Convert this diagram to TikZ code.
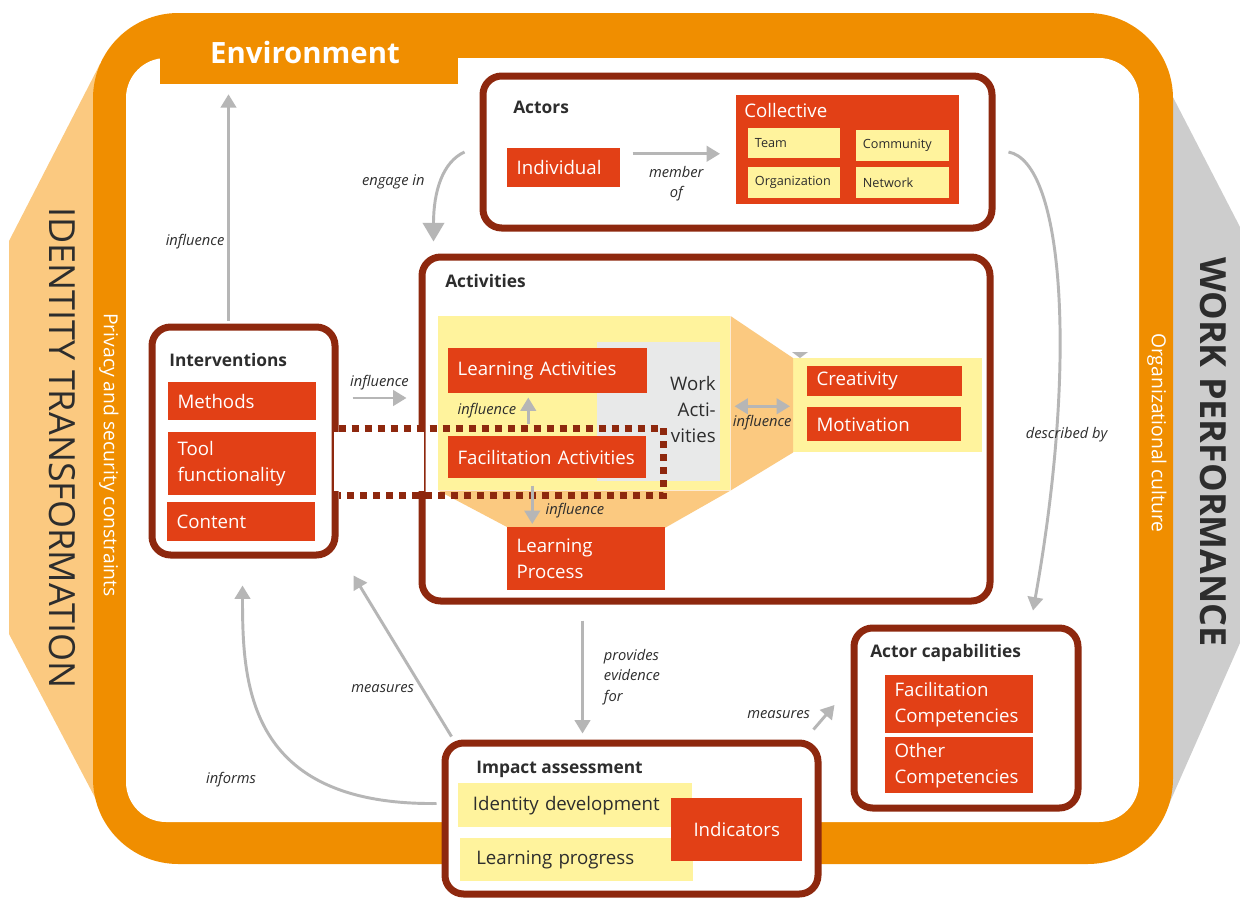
\documentclass[tikz,border=0pt]{standalone}
\usepackage{fontspec}
\setmainfont{Open Sans}
\usetikzlibrary{arrows.meta,calc}
\definecolor{envorange}{RGB}{240,142,0}
\definecolor{idorange}{RGB}{251,201,128}
\definecolor{perfgrey}{RGB}{205,205,205}
\definecolor{boxred}{RGB}{226,64,22}
\definecolor{framered}{RGB}{142,40,14}
\definecolor{paleyellow}{RGB}{255,243,157}
\definecolor{workgrey}{RGB}{232,233,233}
\definecolor{arrowgrey}{RGB}{182,182,182}
\definecolor{textdark}{RGB}{45,45,45}
\newcommand{\boxtxt}{\fontsize{14}{19.5}\selectfont}
\newcommand{\smalltxt}{\fontsize{9.5}{12}\selectfont}
\newcommand{\titletxt}{\fontsize{13}{16}\selectfont\bfseries}
\newcommand{\lbltxt}{\fontsize{11}{15.5}\selectfont\itshape}
\newcommand{\envtxt}{\fontsize{22}{26}\selectfont\bfseries}
\newcommand{\bigtxt}{\fontsize{27}{32}\selectfont}
\newcommand{\sidetxt}{\fontsize{14.5}{17}\selectfont}
\begin{document}
\begin{tikzpicture}[x=0.75pt, y=-0.75pt,
  sized/.style 2 args={minimum width=#1*0.75pt, minimum height=#2*0.75pt},
  areaframe/.style={draw=framered, line width=5.25pt, rounded corners=14pt, fill=white, inner sep=0pt},
  redbox/.style 2 args={fill=boxred, text=white, font=\boxtxt, inner xsep=7pt, inner ysep=0pt, text width=#1, minimum height=#2, align=left, anchor=north west},
  yellowbox/.style 2 args={fill=paleyellow, text=textdark, font=\smalltxt, inner xsep=5pt, inner ysep=0pt, text width=#1, minimum height=#2, align=left, anchor=north west},
  boxtitle/.style={font=\titletxt, text=textdark, anchor=west, inner sep=0pt},
  lbl/.style={font=\lbltxt, text=textdark, inner sep=1pt},
  flow/.style={draw=arrowgrey, line width=2.2pt, -{Triangle[length=10pt,width=11.5pt]}},
  dotline/.style={draw=framered, line width=5.25pt, dash pattern=on 5.25pt off 4.5pt}]
\useasboundingbox (0,0) rectangle (1240,897);

\fill[idorange] (100,64) -- (9,241) -- (9,634) -- (100,807) -- cycle;
\fill[perfgrey] (1160,72) -- (1240,227) -- (1240,643) -- (1162,820) -- cycle;
\fill[envorange, rounded corners=64pt] (93,13) rectangle (1173,864);
\fill[white, rounded corners=30pt] (126,58) rectangle (1139,822);
\node[fill=envorange, sized={298}{27}, inner sep=0pt] (envtab) at (309,70.5) {};
\node[font=\envtxt, text=white] (envtitle) at (305,52) {Environment};

\node[rotate=-90, font=\bigtxt, text=textdark] (identity) at (62,448) {IDENTITY TRANSFORMATION};
\node[rotate=-90, font=\bigtxt\bfseries, text=textdark] (performance) at (1213,452) {WORK PERFORMANCE};
\node[rotate=-90, font=\sidetxt, text=white] (privacy) at (109,455) {Privacy and security constraints};
\node[rotate=-90, font=\sidetxt, text=white] (culture) at (1157,433) {Organizational culture};

\node[areaframe, sized={509}{152}] (actors) at (737.5,152) {};
\node[areaframe, sized={568}{344}] (activities) at (706,429) {};
\node[areaframe, sized={183}{228}] (interv) at (243.5,441) {};
\node[areaframe, sized={224}{180}] (actcap) at (966,718) {};
\node[areaframe, sized={373}{151}] (impact) at (631.5,818.5) {};
\fill[white] ($(interv.east)+(-5,-9)$) rectangle ($(interv.east)+(5,50)$);
\fill[white] ($(activities.west)+(-5,3)$) rectangle ($(activities.west)+(5,62)$);

\node[boxtitle] (actorstitle) at (513,107) {Actors};
\node[boxtitle] (activitiestitle) at (445,281) {Activities};
\node[boxtitle] (intervtitle) at (169,360) {Interventions};
\node[boxtitle] (actcaptitle) at (870,653) {Actor capabilities};
\node[boxtitle] (impacttitle) at (476,769) {Impact assessment};

\node[redbox={70.75pt}{29.25pt}] (individual) at (507,148) {Individual};
\node[fill=boxred, sized={223}{109}, anchor=north west, inner sep=0pt] (collective) at (736,95) {};
\node[font=\boxtxt, text=white, anchor=west, inner sep=0pt] (collectivetitle) at (744,110) {Collective};
\node[yellowbox={59pt}{22.5pt}] (team) at (748,128) {Team};
\node[yellowbox={59.75pt}{23.25pt}] (community) at (856,130) {Community};
\node[yellowbox={59pt}{23.25pt}] (organization) at (748,167) {Organization};
\node[yellowbox={59.75pt}{23.25pt}] (network) at (856,167) {Network};

\node[fill=paleyellow, sized={292}{174}, anchor=north west, inner sep=0pt] (workarea) at (438,316) {};
\node[fill=paleyellow, sized={189}{94}, anchor=north west, inner sep=0pt] (motivarea) at (793,358) {};
\fill[idorange] (workarea.south west) -- (workarea.south east) -- ($(workarea.south east)+(-65,37)$) -- ($(workarea.south west)+(70,37)$) -- cycle;
\fill[idorange] (workarea.north east) -- (motivarea.north west) -- (motivarea.south west) -- (workarea.south east) -- cycle;
\fill[arrowgrey] ($(motivarea.north west)+(-1,-6)$) -- ++(16,0) -- ++(-8,6) -- cycle;
\node[fill=workgrey, sized={123}{139}, anchor=north west, inner sep=0pt] (workact) at (597,342) {};
\node[font=\boxtxt, text=textdark, align=right, anchor=east, inner sep=0pt] (worktext) at (716,409) {Work\\Acti-\\vities};

\node[redbox={135.25pt}{33.75pt}] (learnact) at (448,348) {Learning Activities};
\node[redbox={134.5pt}{31.5pt}] (facilact) at (448,436) {Facilitation Activities};
\node[redbox={104.5pt}{47.25pt}] (learnproc) at (507,527) {Learning\\Process};
\node[redbox={102.25pt}{22.5pt}] (creativity) at (807,366) {Creativity};
\node[redbox={101.5pt}{25.5pt}] (motivation) at (807,407) {Motivation};

\node[redbox={97pt}{28.5pt}] (methods) at (168,382) {Methods};
\node[redbox={97pt}{47.25pt}] (tool) at (168,432) {Tool\\functionality};
\node[redbox={97pt}{29.25pt}] (content) at (167,502) {Content};

\node[redbox={97pt}{43.5pt}] (faccomp) at (885,675) {Facilitation\\Competencies};
\node[redbox={97pt}{42pt}] (othercomp) at (885,737) {Other\\Competencies};

\node[yellowbox={153.5pt}{33pt}, font=\boxtxt, inner xsep=11pt] (identdev) at (458,783) {Identity development};
\node[yellowbox={150.75pt}{32.25pt}, font=\boxtxt, inner xsep=12pt] (learnprog) at (460,838) {Learning progress};
\node[redbox={84.25pt}{47.25pt}, align=center] (indicators) at (671,798) {Indicators};

\draw[dotline] ($(interv.east)+(0,-13)$) -- ($(interv.east)+(325,-13)$) -- ($(interv.east)+(325,54)$) -- ($(interv.east)+(0,54)$);

\draw[flow] ($(individual.east)+(12,-14)$) -- node[lbl, midway, below=7pt, align=center]{member\\of} ($(individual.east -| collective.west)+(-16,-14)$);
\draw[flow, -{Triangle[length=14pt,width=16pt]}] ($(actors.west)+(-15,0)$) .. controls +(-22,10) and +(0,-50) .. ($(activities.north west)+(15,-12)$) node[lbl, pos=0.5, left=10pt]{engage in};
\draw[flow] ($(interv.north)+(-15,-3)$) -- node[lbl, pos=0.35, left=1pt]{influence} ($(interv.north |- envtab.south)+(-15,10)$);
\draw[flow] ($(interv.east)+(14,-43)$) -- node[lbl, midway, above=4pt]{influence} ($(interv.east -| activities.west)+(-12,-43)$);
\draw[flow] ($(facilact.north)+(-19,-12)$) -- node[lbl, midway, left=7pt]{influence} ($(learnact.south)+(-19.5,4)$);
\draw[flow] ($(facilact.south)+(-15,7)$) -- node[lbl, pos=0.65, right=8pt]{influence} ($(facilact.south |- learnproc.north)+(-15,-3)$);
\draw[flow, {Triangle[length=10pt,width=11.5pt]}-{Triangle[length=10pt,width=11.5pt]}] ($(workarea.east)+(4,3)$) -- node[lbl, midway, below=5pt]{influence} ($(motivarea.west)+(-3,1)$);
\draw[flow] ($(actors.east)+(13,0)$) .. controls +(55,10) and +(45,-250) .. ($(actcap.north)+(67,-14)$) node[lbl, pos=0.75, xshift=8pt]{described by};
\draw[flow] ($(activities.south west)+(164,16)$) -- node[lbl, midway, right=14pt, align=left]{provides\\evidence\\for} ($(activities.south west |- impact.north)+(164,-6)$);
\draw[flow] ($(impact.north west)+(10,-3)$) -- node[lbl, pos=0.3, left=4pt]{measures} ($(interv.south east)+(15,17)$);
\draw[flow] ($(impact.west)+(-5,-15)$) .. controls +(-190,2) and +(0,98) .. ($(interv.south)+(-1,27)$);
\node[lbl] (informslbl) at (231,780) {informs};
\draw[flow] ($(impact.north east)+(-8,-10)$) -- node[lbl, pos=0.6, left=10pt]{measures} ($(actcap.west)+(-16,-13)$);
\end{tikzpicture}
\end{document}
